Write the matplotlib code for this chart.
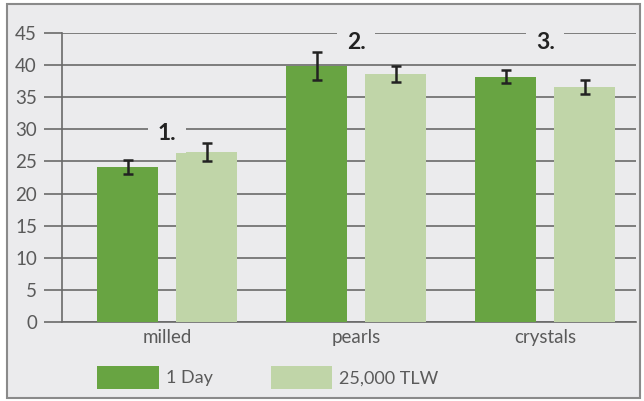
import numpy as np
import matplotlib.pyplot as plt
from matplotlib.patches import Rectangle

categories = ['milled', 'pearls', 'crystals']
day1 = [24.1, 39.9, 38.2]
day1_err = [1.1, 2.2, 1.0]
tlw = [26.5, 38.6, 36.6]
tlw_err = [1.4, 1.25, 1.1]
labels = ['1.', '2.', '3.']
label_y = [29.4, 43.5, 43.5]
series_names = ['1 Day', '25,000 TLW']

bg = '#ebebed'
dark = '#68a442'
light = '#c0d5a8'
grid_c = '#6a6a6a'
text_c = '#5a5a5a'

plt.rcParams['font.family'] = ['Lato', 'DejaVu Sans']

fig = plt.figure(figsize=(6.44, 4.01), dpi=100)
fig.patch.set_facecolor('white')
fig.patches.append(Rectangle((7 / 644, 3 / 401), 633 / 644, 394 / 401,
                             transform=fig.transFigure, facecolor=bg,
                             edgecolor='#8a8a8a', linewidth=1.5, zorder=-5))

ax = fig.add_axes([62 / 644, 1 - 322 / 401, 574 / 644, 289 / 401])
ax.set_facecolor('none')

x = np.arange(len(categories))
w = 0.323
off = 0.209
errkw = dict(ecolor='#222222', elinewidth=1.8, capsize=3.6, capthick=1.8)
ax.bar(x - off, day1, w, color=dark, yerr=day1_err, error_kw=errkw,
       zorder=3, label=series_names[0])
ax.bar(x + off, tlw, w, color=light, yerr=tlw_err, error_kw=errkw,
       zorder=3, label=series_names[1])

for xi, lab, ly in zip(x, labels, label_y):
    ax.text(xi, ly, lab, ha='center', va='center', fontsize=16.5,
            fontweight='bold', color='#222222', zorder=4,
            bbox=dict(facecolor=bg, edgecolor='none', pad=7))

ax.set_xlim(-0.556, 2.48)
ax.set_ylim(0, 45)
ax.set_yticks(np.arange(0, 46, 5))
ax.yaxis.grid(True, color=grid_c, linewidth=1.2, zorder=1)
ax.set_axisbelow(True)
ax.set_xticks(x)
ax.set_xticklabels(categories)
ax.tick_params(axis='x', length=0, pad=5, labelsize=13.5, labelcolor=text_c)
ax.tick_params(axis='y', length=13, width=1.2, color=grid_c, pad=5,
               labelsize=13.5, labelcolor=text_c)
for s in ['top', 'right']:
    ax.spines[s].set_visible(False)
ax.spines['left'].set_color(grid_c)
ax.spines['left'].set_linewidth(1.2)
ax.spines['bottom'].set_color(grid_c)
ax.spines['bottom'].set_linewidth(1.2)

leg = fig.legend(loc='upper left', bbox_to_anchor=(81 / 644, 1 - 350 / 401),
                 ncol=2, frameon=False, fontsize=13, handlelength=3.4,
                 handleheight=1.55, handletextpad=0.4, columnspacing=3.2)
for t in leg.get_texts():
    t.set_color(text_c)

fig.savefig('out.png', dpi=100)
